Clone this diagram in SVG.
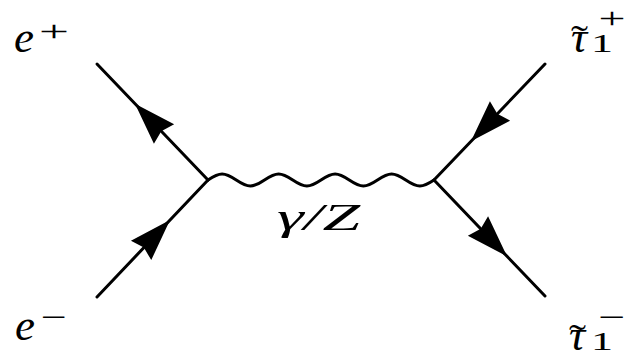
<svg xmlns="http://www.w3.org/2000/svg" xmlns:xlink="http://www.w3.org/1999/xlink" width="626" height="355" viewBox="0 0 626 355">
<style>
.ln{stroke:#000;stroke-width:3;fill:none;stroke-linecap:round;stroke-linejoin:round}
.lbl{font-family:"Liberation Serif","DejaVu Serif",serif;fill:#000}
.it{font-style:italic}
</style>
<defs>
<path id="arr" d="M0,0 L-42,-14 L-38,0 L-42,14 Z" fill="#000"/>
</defs>
<rect width="626" height="355" fill="#fff"/>
<g id="connectors">
<line class="ln" x1="97" y1="64" x2="208" y2="180"/>
<line class="ln" x1="97" y1="297" x2="208" y2="180"/>
<line class="ln" x1="545" y1="64" x2="434" y2="180"/>
<line class="ln" x1="545" y1="296" x2="434" y2="180"/>
<path class="ln" d="M208,180 c4.61,-3.08 9.01,-6 14.125,-6 c5.11,0 9.51,2.92 14.125,6 c4.61,3.08 9.01,6 14.125,6 c5.11,0 9.51,-2.92 14.125,-6 c4.61,-3.08 9.01,-6 14.125,-6 c5.11,0 9.51,2.92 14.125,6 c4.61,3.08 9.01,6 14.125,6 c5.11,0 9.51,-2.92 14.125,-6 c4.61,-3.08 9.01,-6 14.125,-6 c5.11,0 9.51,2.92 14.125,6 c4.61,3.08 9.01,6 14.125,6 c5.11,0 9.51,-2.92 14.125,-6 c4.61,-3.08 9.01,-6 14.125,-6 c5.11,0 9.51,2.92 14.125,6 c4.61,3.08 9.01,6 14.125,6 c5.11,0 9.51,-2.92 14.125,-6"/>
<use xlink:href="#arr" transform="translate(135,103.7) rotate(-133.74)"/>
<use xlink:href="#arr" transform="translate(170,220) rotate(-46.51)"/>
<use xlink:href="#arr" transform="translate(471,141.3) rotate(133.74)"/>
<use xlink:href="#arr" transform="translate(507,256.3) rotate(46.26)"/>
</g>
<g id="e-plus">
<text class="lbl" y="52"><tspan class="it" x="14" font-size="45">e</tspan><tspan x="39" y="41" font-size="30" textLength="30" lengthAdjust="spacingAndGlyphs">+</tspan></text>
</g>
<g id="e-minus">
<text class="lbl" y="340"><tspan class="it" x="15" font-size="45">e</tspan><tspan x="41" y="326.5" font-size="30" textLength="26" lengthAdjust="spacingAndGlyphs">−</tspan></text>
</g>
<g id="stau-plus">
<text class="lbl" y="52"><tspan class="it" x="571" font-size="45">τ</tspan><tspan x="571" y="51" font-size="36" textLength="17" lengthAdjust="spacingAndGlyphs">˜</tspan><tspan x="591" y="52" font-size="26" textLength="22" lengthAdjust="spacingAndGlyphs">1</tspan><tspan x="598.5" y="27.5" font-size="30" textLength="27" lengthAdjust="spacingAndGlyphs">+</tspan></text>
</g>
<g id="stau-minus">
<text class="lbl" y="350"><tspan class="it" x="569" font-size="45">τ</tspan><tspan x="569" y="350" font-size="36" textLength="17" lengthAdjust="spacingAndGlyphs">˜</tspan><tspan x="591" y="350" font-size="26" textLength="22" lengthAdjust="spacingAndGlyphs">1</tspan><tspan x="598.5" y="326.5" font-size="30" textLength="27" lengthAdjust="spacingAndGlyphs">−</tspan></text>
</g>
<g id="boson-label">
<text class="lbl it" x="277" y="230" font-size="37" textLength="83" lengthAdjust="spacingAndGlyphs">γ/Z</text>
</g>
</svg>
